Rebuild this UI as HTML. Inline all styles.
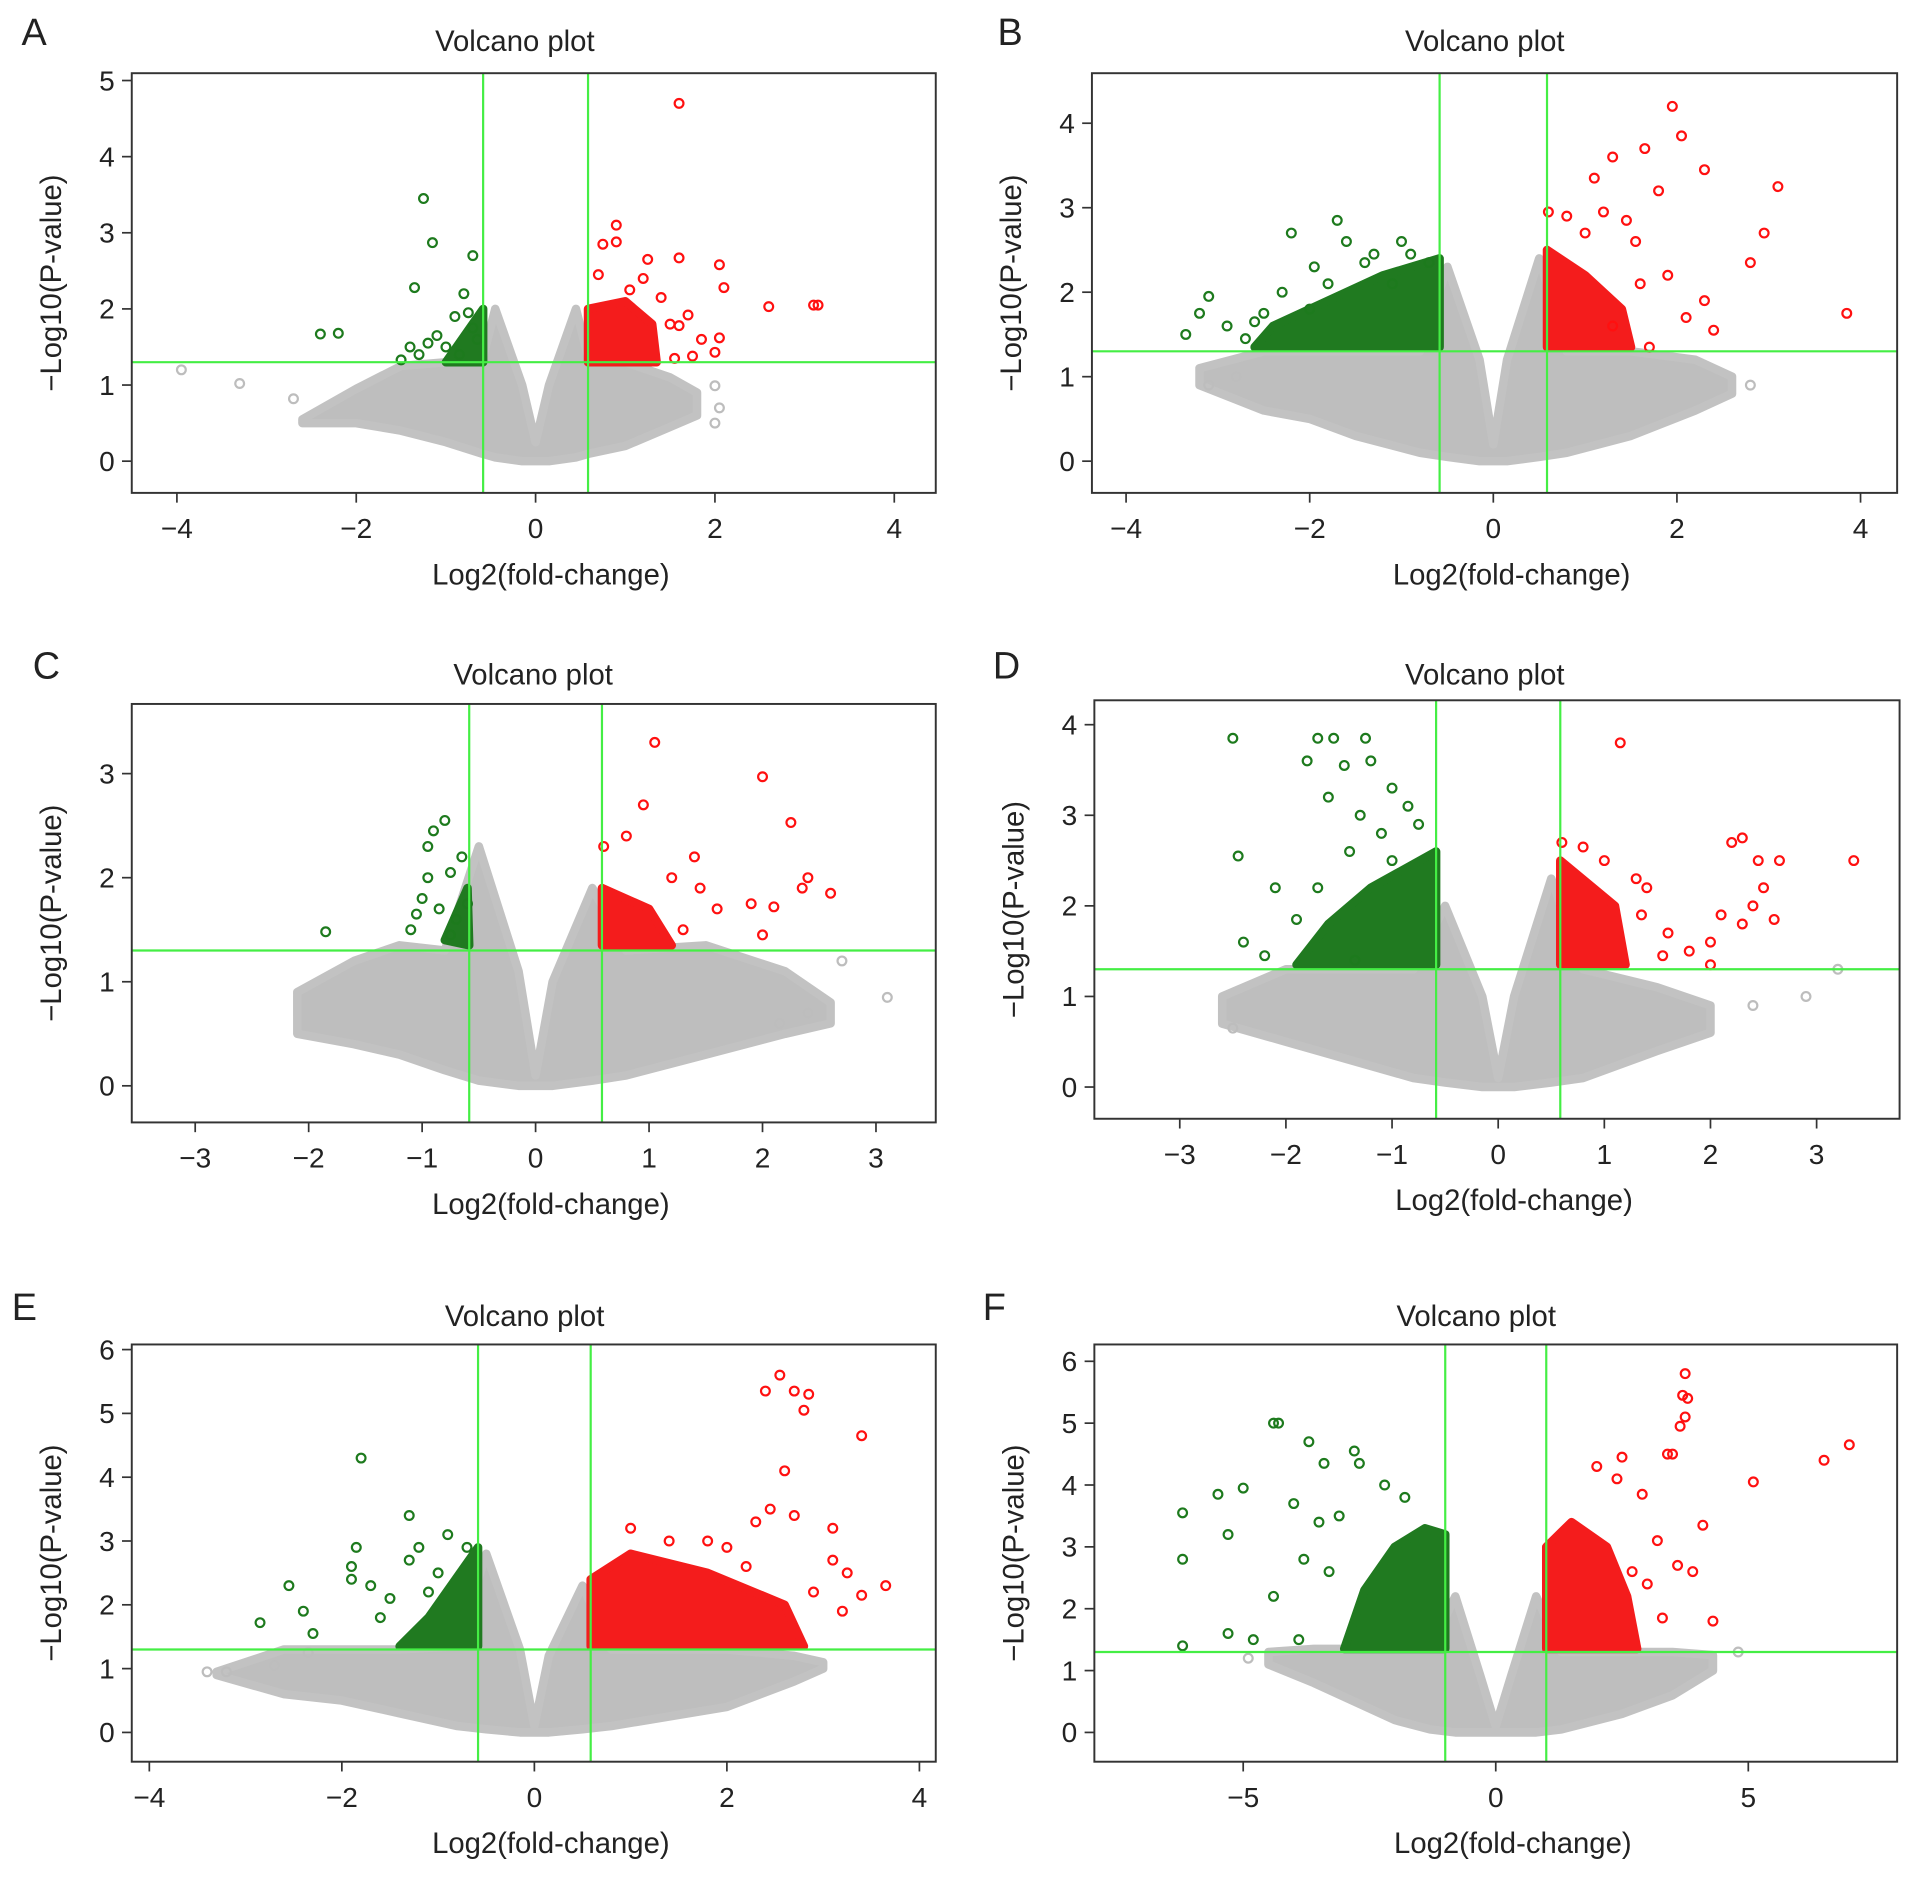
<!DOCTYPE html>
<html><head><meta charset="utf-8">
<style>
html,body{margin:0;padding:0;background:#fff;}
svg{display:block;}
text{font-family:"Liberation Sans",Arial,sans-serif;fill:#222;}
</style></head>
<body>
<svg id="fig" width="1913" height="1877" viewBox="0 0 1568 1538.5" preserveAspectRatio="none" xmlns="http://www.w3.org/2000/svg"></svg>
<script>
// ---- Panel A data ----
const A_gray=[[-2.6,0.55,0.5],[-2,0.95,0.5],[-1.5,1.25,0.4],[-1,1.3,0.25],[-0.6,1.3,0.1],[-0.45,2.0,0.05],[-0.15,1.0,0],[0,0.25,0],[0.15,1.0,0],[0.45,2.0,0.05],[0.6,1.3,0.1],[1,1.3,0.2],[1.5,1.1,0.45],[1.8,0.9,0.6]];
const A_grayPts=[[-3.95,1.2],[-3.3,1.02],[-2.7,0.82],[2.0,0.99],[2.05,0.7],[2.0,0.5]];
const A_greenHull=[[-0.585,1.3],[-1.0,1.3],[-0.585,2.0]];
const A_redHull=[[0.585,1.3],[1.35,1.3],[1.3,1.8],[1.0,2.1],[0.585,2.0]];
const A_green=[[-2.4,1.67],[-2.2,1.68],[-1.25,3.45],[-1.15,2.87],[-0.7,2.7],[-1.35,2.28],[-0.8,2.2],[-0.9,1.9],[-0.75,1.95],[-1.1,1.65],[-1.5,1.33],[-1.4,1.5],[-1.2,1.55],[-1.0,1.5],[-0.85,1.4],[-0.7,1.75],[-1.3,1.4],[-0.65,1.6]];
const A_red=[[1.6,4.7],[0.9,3.1],[0.9,2.88],[0.75,2.85],[1.25,2.65],[1.6,2.67],[2.05,2.58],[2.1,2.28],[2.6,2.03],[3.1,2.05],[3.15,2.05],[1.7,1.92],[1.6,1.78],[1.5,1.8],[1.85,1.6],[2.05,1.62],[2.0,1.43],[1.75,1.38],[1.55,1.35],[1.05,2.25],[0.7,2.45],[1.4,2.15],[1.2,2.4]];
const A_xTicks=[-4,-2,0,2,4];
const A_yTicks=[0,1,2,3,4,5];
// ---- Panel B data ----
const B_gray=[[-3.2,1.1,0.9],[-2.5,1.3,0.6],[-2,1.3,0.5],[-1.5,1.3,0.3],[-0.8,1.3,0.1],[-0.5,2.3,0.05],[-0.15,1.2,0],[0,0.2,0],[0.15,1.2,0],[0.5,2.4,0.05],[0.8,1.3,0.1],[1.5,1.3,0.3],[2.2,1.2,0.6],[2.6,1.0,0.8]];
const B_grayPts=[[-3.1,0.9],[-2.8,1.0],[2.8,0.9]];
const B_greenHull=[[-0.585,1.35],[-2.6,1.35],[-2.4,1.6],[-1.8,1.9],[-1.2,2.2],[-0.585,2.4]];
const B_redHull=[[0.585,1.35],[1.5,1.35],[1.4,1.8],[1.0,2.2],[0.585,2.5]];
const B_green=[[-3.1,1.95],[-3.2,1.75],[-3.35,1.5],[-2.9,1.6],[-2.7,1.45],[-2.5,1.75],[-2.3,2.0],[-2.2,2.7],[-2.0,1.8],[-1.95,2.3],[-1.7,2.85],[-1.6,2.6],[-1.4,2.35],[-1.3,2.45],[-1.0,2.6],[-0.9,2.45],[-0.7,2.35],[-1.1,2.1],[-1.8,2.1],[-2.6,1.65]];
const B_red=[[1.95,4.2],[2.05,3.85],[1.3,3.6],[1.1,3.35],[1.65,3.7],[1.8,3.2],[2.3,3.45],[3.1,3.25],[2.95,2.7],[2.8,2.35],[3.85,1.75],[2.4,1.55],[2.1,1.7],[2.3,1.9],[1.9,2.2],[1.6,2.1],[1.55,2.6],[1.2,2.95],[1.0,2.7],[0.8,2.9],[0.6,2.95],[1.45,2.85],[1.7,1.35],[1.3,1.6]];
const B_xTicks=[-4,-2,0,2,4];
const B_yTicks=[0,1,2,3,4];
// ---- Panel C data ----
const C_gray=[[-2.1,0.9,0.5],[-1.6,1.2,0.4],[-1.2,1.35,0.3],[-0.8,1.3,0.15],[-0.5,2.3,0.05],[-0.15,1.1,0],[0,0.1,0],[0.15,1.0,0],[0.5,1.9,0.05],[0.8,1.3,0.1],[1.5,1.35,0.3],[2.2,1.1,0.5],[2.6,0.8,0.6]];
const C_grayPts=[[2.7,1.2],[3.1,0.85],[2.4,0.7],[2.15,0.6]];
const C_greenHull=[[-0.585,1.35],[-0.8,1.4],[-0.6,1.9]];
const C_redHull=[[0.585,1.35],[1.2,1.35],[1.0,1.7],[0.585,1.9]];
const C_green=[[-1.85,1.48],[-0.95,2.3],[-0.8,2.55],[-0.9,2.45],[-0.65,2.2],[-0.75,2.05],[-0.95,2.0],[-1.0,1.8],[-0.85,1.7],[-0.7,1.6],[-1.1,1.5],[-0.75,1.45],[-1.05,1.65],[-0.6,1.75]];
const C_red=[[1.05,3.3],[2.0,2.97],[0.95,2.7],[2.25,2.53],[0.8,2.4],[0.6,2.3],[2.4,2.0],[2.35,1.9],[2.6,1.85],[2.1,1.72],[1.9,1.75],[1.6,1.7],[2.0,1.45],[1.4,2.2],[1.2,2.0],[1.45,1.9],[1.3,1.5]];
const C_xTicks=[-3,-2,-1,0,1,2,3];
const C_yTicks=[0,1,2,3];
// ---- Panel D data ----
const D_gray=[[-2.6,1.0,0.7],[-2,1.3,0.5],[-1.4,1.3,0.3],[-0.8,1.3,0.1],[-0.5,2.0,0.05],[-0.15,1.0,0],[0,0.1,0],[0.15,1.0,0],[0.5,2.3,0.05],[0.8,1.3,0.1],[1.5,1.1,0.4],[2.0,0.9,0.6]];
const D_grayPts=[[3.2,1.3],[2.9,1.0],[2.4,0.9],[-2.5,0.65]];
const D_greenHull=[[-0.585,1.35],[-1.9,1.35],[-1.6,1.8],[-1.2,2.2],[-0.585,2.6]];
const D_redHull=[[0.585,1.35],[1.2,1.35],[1.1,2.0],[0.585,2.5]];
const D_green=[[-2.5,3.85],[-2.45,2.55],[-2.4,1.6],[-2.2,1.45],[-2.1,2.2],[-1.9,1.85],[-1.8,3.6],[-1.7,3.85],[-1.55,3.85],[-1.45,3.55],[-1.25,3.85],[-1.2,3.6],[-1.0,3.3],[-0.85,3.1],[-1.6,3.2],[-1.3,3.0],[-1.1,2.8],[-0.75,2.9],[-1.4,2.6],[-1.0,2.5],[-1.7,2.2],[-1.35,1.4]];
const D_red=[[1.15,3.8],[0.6,2.7],[0.8,2.65],[1.0,2.5],[1.3,2.3],[1.4,2.2],[1.6,1.7],[1.55,1.45],[1.8,1.5],[2.0,1.6],[2.2,2.7],[2.3,2.75],[2.45,2.5],[2.65,2.5],[2.5,2.2],[2.4,2.0],[2.6,1.85],[2.1,1.9],[2.3,1.8],[3.35,2.5],[2.0,1.35],[1.35,1.9]];
const D_xTicks=[-3,-2,-1,0,1,2,3];
const D_yTicks=[0,1,2,3,4];
// ---- Panel E data ----
const E_gray=[[-3.3,0.95,0.9],[-2.6,1.3,0.6],[-2,1.3,0.5],[-1.4,1.3,0.3],[-0.8,1.35,0.1],[-0.5,2.8,0.05],[-0.15,1.3,0],[0,0.1,0],[0.15,1.2,0],[0.5,2.3,0.05],[0.8,1.3,0.1],[2,1.3,0.4],[2.7,1.2,0.8],[3.0,1.1,1.0]];
const E_grayPts=[[-3.4,0.95],[-3.2,0.95],[-2.7,1.05],[-2.35,1.25]];
const E_greenHull=[[-0.585,1.35],[-1.4,1.35],[-1.1,1.8],[-0.585,2.9]];
const E_redHull=[[0.585,1.35],[2.8,1.35],[2.6,2.0],[1.8,2.5],[1.0,2.8],[0.585,2.4]];
const E_green=[[-2.85,1.72],[-2.55,2.3],[-2.4,1.9],[-2.3,1.55],[-1.8,4.3],[-1.85,2.9],[-1.9,2.6],[-1.9,2.4],[-1.3,3.4],[-1.3,2.7],[-1.7,2.3],[-1.5,2.1],[-1.2,2.9],[-1.6,1.8],[-0.9,3.1],[-1.0,2.5],[-1.1,2.2],[-0.7,2.9]];
const E_red=[[2.55,5.6],[2.7,5.35],[2.85,5.3],[2.4,5.35],[2.8,5.05],[3.4,4.65],[2.6,4.1],[2.45,3.5],[2.3,3.3],[2.7,3.4],[3.1,3.2],[3.1,2.7],[3.25,2.5],[3.65,2.3],[3.4,2.15],[2.9,2.2],[2.0,2.9],[1.8,3.0],[1.4,3.0],[1.0,3.2],[2.2,2.6],[3.2,1.9]];
const E_xTicks=[-4,-2,0,2,4];
const E_yTicks=[0,1,2,3,4,5,6];
// ---- Panel F data ----
const F_gray=[[-4.5,1.3,1.1],[-3.6,1.35,0.8],[-2.8,1.35,0.5],[-2,1.35,0.2],[-1.3,1.35,0.05],[-0.8,2.2,0],[-0.3,0.9,0],[0,0.1,0],[0.3,0.9,0],[0.8,2.2,0],[1.3,1.3,0.05],[2.5,1.3,0.3],[3.5,1.3,0.6],[4.3,1.25,1.0]];
const F_grayPts=[[4.8,1.3],[-4.9,1.2]];
const F_greenHull=[[-1,1.35],[-3.0,1.35],[-2.6,2.3],[-2.0,3.0],[-1.4,3.3],[-1,3.2]];
const F_redHull=[[1,1.35],[2.8,1.35],[2.6,2.2],[2.2,3.0],[1.5,3.4],[1,3.0]];
const F_green=[[-6.2,3.55],[-6.2,2.8],[-6.2,1.4],[-5.5,3.85],[-5.0,3.95],[-5.3,3.2],[-4.4,5.0],[-4.3,5.0],[-3.7,4.7],[-3.4,4.35],[-2.8,4.55],[-2.7,4.35],[-4.0,3.7],[-3.5,3.4],[-3.1,3.5],[-3.8,2.8],[-3.3,2.6],[-4.4,2.2],[-4.8,1.5],[-5.3,1.6],[-3.9,1.5],[-2.2,4.0],[-1.8,3.8]];
const F_red=[[3.75,5.8],[3.7,5.45],[3.8,5.4],[3.75,5.1],[3.65,4.95],[3.4,4.5],[3.5,4.5],[5.1,4.05],[6.5,4.4],[7.0,4.65],[2.5,4.45],[2.0,4.3],[2.4,4.1],[2.9,3.85],[3.2,3.1],[4.1,3.35],[3.6,2.7],[3.9,2.6],[4.3,1.8],[3.3,1.85],[3.0,2.4],[2.7,2.6]];
const F_xTicks=[-5,0,5];
const F_yTicks=[0,1,2,3,4,5,6];

const NS="http://www.w3.org/2000/svg";
const svg=document.getElementById('fig');
function mk(tag,attrs,parent){const e=document.createElementNS(NS,tag);for(const k in attrs)e.setAttribute(k,attrs[k]);(parent||svg).appendChild(e);return e;}

const panels=[
 {id:'a',L:'A',lx:28,ly:37,box:[108,60,767,404],x0:439,xs:73.5,y0:378,ys:62.4,fc:0.585,tx:422,tty:33,gray:A_gray,gp:A_grayPts,gh:A_greenHull,rh:A_redHull,g:A_green,r:A_red,xt:A_xTicks,yt:A_yTicks},
 {id:'b',L:'B',lx:828,ly:37,box:[895,60,1555,404],x0:1224,xs:75.25,y0:378,ys:69.25,fc:0.585,tx:1217,tty:33,gray:B_gray,gp:B_grayPts,gh:B_greenHull,rh:B_redHull,g:B_green,r:B_red,xt:B_xTicks,yt:B_yTicks},
 {id:'c',L:'C',lx:38,ly:556,box:[108,577,767,920],x0:439,xs:93,y0:890,ys:85.3,fc:0.585,tx:437,tty:552,gray:C_gray,gp:C_grayPts,gh:C_greenHull,rh:C_redHull,g:C_green,r:C_red,xt:C_xTicks,yt:C_yTicks},
 {id:'d',L:'D',lx:825,ly:556,box:[897,574,1557,917],x0:1228,xs:87,y0:891,ys:74.25,fc:0.585,tx:1217,tty:552,gray:D_gray,gp:D_grayPts,gh:D_greenHull,rh:D_redHull,g:D_green,r:D_red,xt:D_xTicks,yt:D_yTicks},
 {id:'e',L:'E',lx:20,ly:1082,box:[108,1102,767,1444],x0:438,xs:78.9,y0:1420,ys:52.3,fc:0.585,tx:430,tty:1078,gray:E_gray,gp:E_grayPts,gh:E_greenHull,rh:E_redHull,g:E_green,r:E_red,xt:E_xTicks,yt:E_yTicks},
 {id:'f',L:'F',lx:815,ly:1082,box:[897,1102,1555,1444],x0:1226,xs:41.4,y0:1420,ys:50.7,fc:1.0,tx:1210,tty:1078,gray:F_gray,gp:F_grayPts,gh:F_greenHull,rh:F_redHull,g:F_green,r:F_red,xt:F_xTicks,yt:F_yTicks}
];

panels.forEach(p=>{
 const X=v=>p.x0+v*p.xs, Y=v=>p.y0-v*p.ys;
 const [bx1,by1,bx2,by2]=p.box;
 const grp=mk('g',{});
 
 
 const lab=mk('text',{x:p.lx,y:p.ly,'font-size':31,'text-anchor':'middle'},grp);lab.textContent=p.L;
 
 
 const t=mk('text',{x:p.tx,y:p.tty+9,'font-size':24,'text-anchor':'middle'},grp);t.textContent='Volcano plot';
 
 
 const cp=mk('clipPath',{id:'clip'+p.id},grp);mk('rect',{x:bx1,y:by1,width:bx2-bx1,height:by2-by1},cp);
 const plot=mk('g',{'clip-path':'url(#clip'+p.id+')'},grp);
 
 
 let pts=p.gray.map(d=>X(d[0])+','+Y(d[1]));
 pts=pts.concat(p.gray.slice().reverse().map(d=>X(d[0])+','+Y(d[2])));
 const cl=mk('polygon',{points:pts.join(' '),fill:'#bebebe',stroke:'#c2c2c2','stroke-width':7,'stroke-linejoin':'round'},plot);
 
 
 p.gp.forEach(d=>{const c=mk('circle',{cx:X(d[0]),cy:Y(d[1]),r:3.6,fill:'none',stroke:'#bdbdbd','stroke-width':1.8},plot);
  
  });
 const gh=mk('polygon',{points:p.gh.map(d=>X(d[0])+','+Y(d[1])).join(' '),fill:'#207a20',stroke:'#207a20','stroke-width':7,'stroke-linejoin':'round'},plot);
 
 
 const rh=mk('polygon',{points:p.rh.map(d=>X(d[0])+','+Y(d[1])).join(' '),fill:'#f41c1c',stroke:'#f41c1c','stroke-width':7,'stroke-linejoin':'round'},plot);
 
 
 p.g.forEach(d=>{const c=mk('circle',{cx:X(d[0]),cy:Y(d[1]),r:3.6,fill:'none',stroke:'#1d7a1d','stroke-width':1.8},plot);
  
  });
 p.r.forEach(d=>{const c=mk('circle',{cx:X(d[0]),cy:Y(d[1]),r:3.6,fill:'none',stroke:'#ff1010','stroke-width':1.8},plot);
  
  });
 [-p.fc,p.fc].forEach(v=>{const l=mk('line',{x1:X(v),x2:X(v),y1:by1,y2:by2,stroke:'#44ee44','stroke-width':1.8},plot);
  
  });
 const hl=mk('line',{x1:bx1,x2:bx2,y1:Y(1.3),y2:Y(1.3),stroke:'#44ee44','stroke-width':1.8},plot);
 
 
 const bx=mk('rect',{x:bx1,y:by1,width:bx2-bx1,height:by2-by1,fill:'none',stroke:'#333','stroke-width':1.6},grp);
 
 
 const xa=mk('g',{},grp);
 
 
 p.xt.forEach(v=>{mk('line',{x1:X(v),x2:X(v),y1:by2,y2:by2+8,stroke:'#333','stroke-width':1.4},xa);
  const tt=mk('text',{x:X(v),y:by2+37,'font-size':23,'text-anchor':'middle'},xa);tt.textContent=v<0?'\u2212'+(-v):String(v);
  
  });
 const xt=mk('text',{x:(bx1+bx2)/2+14,y:by2+75,'font-size':24,'text-anchor':'middle'},grp);xt.textContent='Log2(fold-change)';
 
 
 const ya=mk('g',{},grp);
 
 
 p.yt.forEach(v=>{mk('line',{x1:bx1-8,x2:bx1,y1:Y(v),y2:Y(v),stroke:'#333','stroke-width':1.4},ya);
  const tt=mk('text',{x:bx1-14,y:Y(v)+8,'font-size':23,'text-anchor':'end'},ya);tt.textContent=String(v);
  
  });
 const cy=(by1+by2)/2;
 const yt=mk('text',{x:bx1-58,y:cy,'font-size':24,'text-anchor':'middle',transform:`rotate(-90 ${bx1-58} ${cy})`},grp);yt.textContent='\u2212Log10(P-value)';
 
 
});
</script>
</body></html>
